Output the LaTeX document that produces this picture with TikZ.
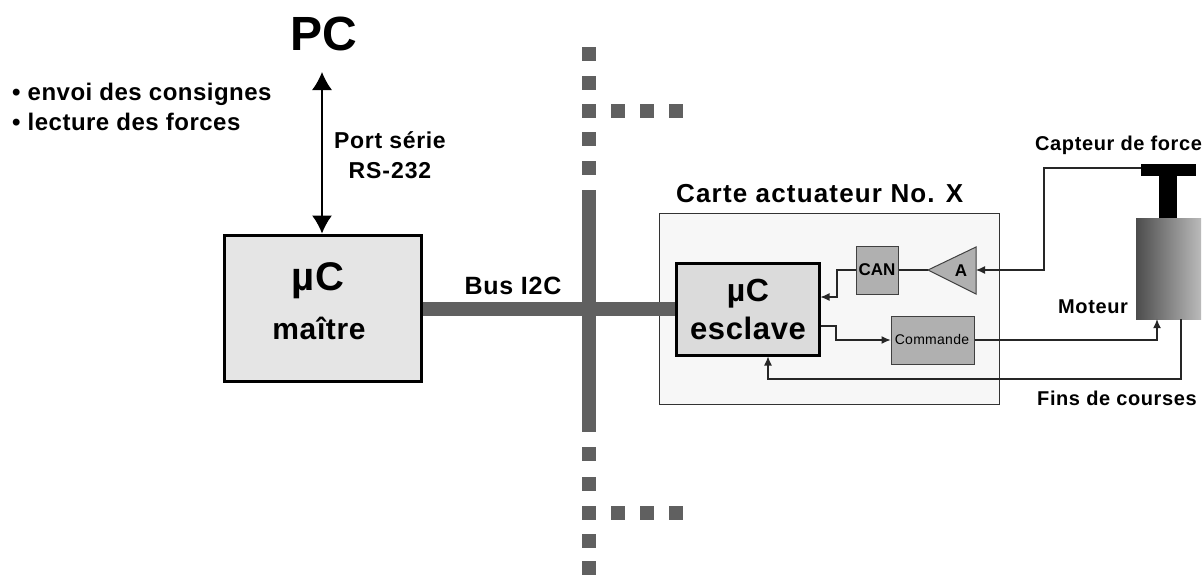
\documentclass[tikz,border=0pt]{standalone}
\usepackage{fontspec}
\setmainfont{Liberation Sans}
\usetikzlibrary{arrows.meta,calc}
\newcommand{\fsz}[2]{\fontsize{#1}{#1}\selectfont\addfontfeatures{LetterSpace=#2}}
\definecolor{busgray}{HTML}{606060}
\tikzset{
 x=1pt,y=-1pt,
 lab/.style={anchor=base west,inner sep=0pt,text=black,font=\bfseries},
 mid/.style={anchor=base,inner sep=0pt,text=black,font=\bfseries},
 bigbox/.style={draw=black,line width=3pt,inner sep=0pt},
 smallbox/.style={draw=black!75,line width=1pt,fill=black!31,inner sep=0pt},
 sq/.style={fill=busgray,inner sep=0pt,minimum width=14pt,minimum height=14pt},
 wire/.style={draw=black!85,line width=1.1pt,-{Latex[length=9pt,width=8pt]}},
 plainwire/.style={draw=black!85,line width=1.1pt},
 bus/.style={draw=busgray,line width=14pt},
}
\begin{document}
\begin{tikzpicture}
\useasboundingbox (0,0) rectangle (1202,574);
\fill[white] (0,0) rectangle (1202,574);
% card
\node[draw=black!80,line width=1pt,fill=black!3,minimum width=340pt,minimum height=191pt,inner sep=0pt] (card) at (829,308.5) {};
% dashed bus squares
\foreach \n/\y in {a/54,b/83,c/111,d/139,e/168,f/454,g/484,h/513,i/541,j/568}
  \node[sq] (s\n) at (589,\y) {};
\foreach \n/\x in {a/618,b/647,c/676}{
  \node[sq] (t\n) at (\x,111) {};
  \node[sq] (u\n) at (\x,513) {};
}
% main boxes
\node[bigbox,fill=black!10,minimum width=197pt,minimum height=146pt] (master) at (322.5,308) {};
\node[bigbox,fill=black!14,minimum width=143pt,minimum height=92pt] (slave) at (747.5,309) {};
% bus
\coordinate (vtop) at (589,190);
\coordinate (vbot) at (589,432);
\draw[bus] (vtop) -- (vbot);
\draw[bus] (master.east |- 0,309) -- (slave.west |- 0,309);
% small blocks
\node[smallbox,minimum width=42pt,minimum height=48pt] (can) at (877,270) {};
\node[smallbox,minimum width=83pt,minimum height=48pt] (cmd) at (932.5,340) {};
\coordinate (amptip) at (928,270);
\coordinate (ampup) at (976,247);
\coordinate (ampdn) at (976,294);
\coordinate (ampin) at (976,270);
\draw[draw=black!75,line width=1pt,fill=black!31] (amptip) -- (ampup) -- (ampdn) -- cycle;
% actuator
\node[fill=black,inner sep=0pt,minimum width=55pt,minimum height=12pt] (tbar) at (1168.5,170) {};
\node[fill=black,inner sep=0pt,minimum width=18pt,minimum height=44pt] (tstem) at (1168,197) {};
\node[left color=black!70,right color=black!27,inner sep=0pt,minimum width=65pt,minimum height=101pt] (motor) at (1168.5,268.5) {};
% PC arrow
\coordinate (pcfoot) at (322,72);
\draw[draw=black,line width=1.4pt,{Latex[length=18pt,width=20pt]}-{Latex[length=18pt,width=20pt]}] (pcfoot) -- (pcfoot |- master.north);
% wires
\coordinate (w1) at (1044,168);
\draw[wire] (tbar.west |- w1) -- (w1) -- (w1 |- ampin) -- (ampin);
\draw[plainwire] (can.east) -- (amptip);
\coordinate (w2) at (837,270);
\coordinate (w2b) at (837,297);
\draw[wire] (can.west) -- (w2) -- (w2b) -- (slave.east |- w2b);
\coordinate (w3) at (836,326);
\draw[wire] (slave.east |- w3) -- (w3) -- (w3 |- cmd.west) -- (cmd.west);
\coordinate (w4) at (1157,340);
\draw[wire] (cmd.east) -- (w4) -- (w4 |- motor.south);
\coordinate (w5) at (1181,379);
\coordinate (w6) at (768,379);
\draw[wire] (w5 |- motor.south) -- (w5) -- (w6) -- (w6 |- slave.south);
% labels
\node[lab,font=\bfseries\fsz{48}{0}] (pc) at (290,50) {PC};
\node[lab,font=\bfseries\fsz{24}{2}] (l1) at (12,100) {• envoi des consignes};
\node[lab,font=\bfseries\fsz{24}{2}] (l2) at (12,130) {• lecture des forces};
\node[mid,font=\bfseries\fsz{23}{3}] (port) at (390,148) {Port série};
\node[mid,font=\bfseries\fsz{23}{4}] (rs) at (390,178) {RS-232};
\node[mid,font=\bfseries\fsz{40}{2}] (uc1) at (318,290) {µC};
\node[mid,font=\bfseries\fsz{30}{2}] (mt) at (319,339) {maître};
\node[mid,font=\bfseries\fsz{25}{3}] (busl) at (513,294) {Bus I2C};
\node[lab,font=\bfseries\fsz{26}{4.5}] (title) at (676,202) {Carte actuateur No. X};
\node[mid,font=\bfseries\fsz{32}{2}] (uc2) at (748,301) {µC};
\node[mid,font=\bfseries\fsz{31}{2}] (esc) at (748,339) {esclave};
\node[mid,font=\bfseries\fsz{17}{0}] (canl) at (877,275) {CAN};
\node[mid,font=\bfseries\fsz{17}{0}] (al) at (961,276) {A};
\node[mid,font=\fsz{14}{2}] (cmdl) at (932,344) {Commande};
\node[lab,font=\bfseries\fsz{20}{3}] (cap) at (1035,150) {Capteur de force};
\node[lab,font=\bfseries\fsz{20}{3}] (mot) at (1058,313) {Moteur};
\node[lab,font=\bfseries\fsz{20}{3}] (fin) at (1037,405) {Fins de courses};
\end{tikzpicture}
\end{document}
